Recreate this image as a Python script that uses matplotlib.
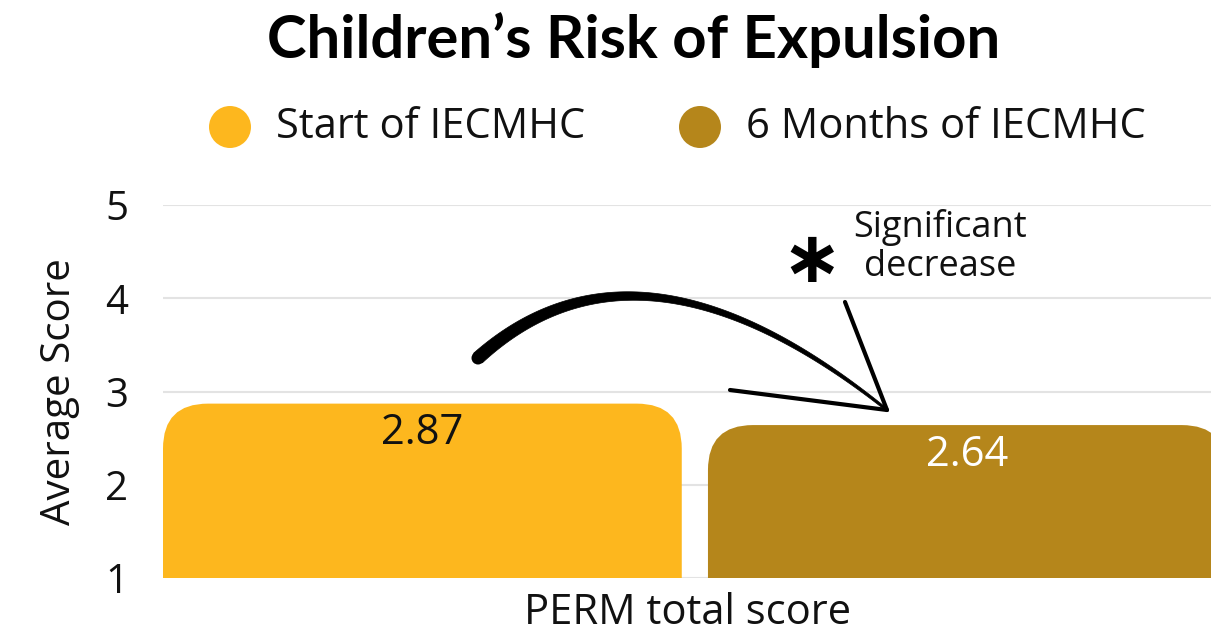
import matplotlib.pyplot as plt
from matplotlib.path import Path
from matplotlib.patches import PathPatch, Ellipse, Polygon
import numpy as np

plt.rcParams['font.family'] = ['Open Sans', 'DejaVu Sans']

category = "PERM total score"
series = ["Start of IECMHC", "6 Months of IECMHC"]
values = [2.87, 2.64]
labels = ["2.87", "2.64"]
colors = ["#FDB71E", "#B5861B"]
label_colors = ["#111111", "#FFFFFF"]
offsets = [-0.505, 0.535]
width = 0.99

fig = plt.figure(figsize=(12.11, 6.4), dpi=100)
ax = fig.add_axes([163 / 1211, 62 / 640, 1048 / 1211, 373 / 640])
ax.set_xlim(-1.0, 1.0)
ax.set_ylim(1, 5)

# corner radius in data units (45 px)
px_x = 1048 / 2.0
px_y = 373 / 4.0
rx, ry = 45 / px_x, 45 / px_y

for off, v, c, lab, lc in zip(offsets, values, colors, labels, label_colors):
    x0, x1 = off - width / 2, off + width / 2
    y0, y1 = 1, v
    verts = [(x0, y0), (x0, y1 - ry), (x0, y1), (x0 + rx, y1),
             (x1 - rx, y1), (x1, y1), (x1, y1 - ry), (x1, y0), (x0, y0)]
    codes = [Path.MOVETO, Path.LINETO, Path.CURVE3, Path.CURVE3,
             Path.LINETO, Path.CURVE3, Path.CURVE3, Path.LINETO, Path.CLOSEPOLY]
    ax.add_patch(PathPatch(Path(verts, codes), facecolor=c, edgecolor='none', zorder=2))
    ax.text(off, v - 0.32, lab, ha='center', va='center', fontsize=30, color=lc, zorder=3)

ax.set_yticks([1, 2, 3, 4, 5])
ax.tick_params(axis='y', length=0, labelsize=29, pad=25, colors='#111111')
ax.set_xticks([0])
ax.set_xticklabels([category])
ax.tick_params(axis='x', length=0, labelsize=30, pad=10, colors='#111111')
ax.grid(axis='y', color='#e3e3e3', lw=1.5, zorder=0)
ax.set_axisbelow(True)
for s in ax.spines.values():
    s.set_visible(False)
ax.set_ylabel("Average Score", fontsize=29, labelpad=18, color='#111111')

fig.text(0.523, 1 - 40 / 640, "Children\u2019s Risk of Expulsion", ha='center', va='center',
         fontsize=43, fontweight='bold', family=['Lato', 'DejaVu Sans'])

# legend
for xc, name, c in zip([230, 700], series, colors):
    fig.add_artist(Ellipse((xc / 1211, 1 - 127 / 640), 42 / 1211, 42 / 640,
                           facecolor=c, edgecolor='none', transform=fig.transFigure))
    fig.text((xc + 46) / 1211, 1 - 127 / 640, name, ha='left', va='center',
             fontsize=30, color='#111111')

# curved arrow: tapered stroke built as a filled outline (pixel coords)
p0 = np.array([478, 358.0])
pc = np.array([640, 212.0])
p1 = np.array([887, 410.0])
t = np.linspace(0, 1, 200)
pts = ((1 - t)[:, None] ** 2) * p0 + (2 * (1 - t) * t)[:, None] * pc + (t ** 2)[:, None] * p1
d = np.gradient(pts, axis=0)
n = np.column_stack([-d[:, 1], d[:, 0]])
n /= np.linalg.norm(n, axis=1)[:, None]
half = np.linspace(6.5, 1.2, len(t))[:, None]
outline = np.vstack([pts + n * half, (pts - n * half)[::-1]])
outline_fig = np.column_stack([outline[:, 0] / 1211, 1 - outline[:, 1] / 640])
fig.add_artist(Polygon(outline_fig, closed=True, facecolor='black', edgecolor='black',
                       lw=0.5, transform=fig.transFigure))
fig.add_artist(Ellipse((p0[0] / 1211, 1 - p0[1] / 640), 13 / 1211, 13 / 640,
                       facecolor='black', edgecolor='none', transform=fig.transFigure))
for a in [(845, 302), (730, 390)]:
    fig.add_artist(plt.Line2D([a[0] / 1211, 887 / 1211], [1 - a[1] / 640, 1 - 410 / 640],
                              color='black', lw=3, solid_capstyle='round',
                              transform=fig.transFigure))

fig.text(812 / 1211, 1 - 262 / 640, "\u2217", ha='center', va='center',
         fontsize=52, fontweight='bold', family=['DejaVu Sans'])
fig.text(940 / 1211, 1 - 247 / 640, "Significant\ndecrease", ha='center', va='center',
         fontsize=26, linespacing=1.12, color='#111111')

fig.savefig("out.png", dpi=100)
